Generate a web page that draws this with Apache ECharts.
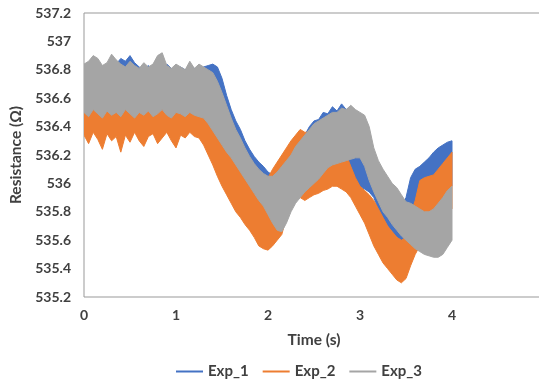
<!DOCTYPE html>
<html><head><meta charset="utf-8">
<script src="https://cdn.jsdelivr.net/npm/echarts@6/dist/echarts.min.js"></script>
<style>html,body{margin:0;padding:0;background:#fff}#c{width:539px;height:380px}</style>
</head><body><div id="c"></div>
<script>
// Time samples every 0.05 s from 0 to 4 s; each series is a noisy band read as low/high envelope
const sampleStep = 0.05;
const xTicks = [0, 1, 2, 3, 4, 5];
const yTicks = [535.2, 535.4, 535.6, 535.8, 536, 536.2, 536.4, 536.6, 536.8, 537, 537.2];
const seriesNames = ['Exp_1', 'Exp_2', 'Exp_3'];

const exp1High = [536.80,536.82,536.79,536.83,536.80,536.78,536.81,536.84,536.88,536.86,536.90,536.85,536.82,536.80,536.83,536.79,536.82,536.80,536.84,536.81,536.79,536.82,536.80,536.83,536.81,536.80,536.82,536.83,536.84,
536.82,536.74,536.62,536.52,536.44,536.38,536.30,536.24,536.19,536.15,536.12,536.08,
536.06,536.10,536.14,536.18,536.22,536.26,536.30,536.34,536.40,536.44,536.45,536.50,536.49,536.54,536.51,536.56,536.52,536.54,536.48,536.40,
536.30,536.20,536.10,536.02,535.96,535.90,535.86,535.84,535.84,535.90,536.04,536.10,536.12,536.15,536.18,536.22,536.25,536.27,536.29,536.30];
const exp1Low = [536.46,536.40,536.48,536.45,536.47,536.44,536.46,536.48,536.45,536.47,536.46,536.44,536.48,536.46,536.45,536.47,536.46,536.48,536.45,536.46,536.47,536.44,536.46,536.48,536.45,536.46,536.47,536.45,536.44,
536.42,536.38,536.32,536.26,536.20,536.14,536.08,536.02,535.96,535.90,535.85,535.80,535.75,
535.70,535.72,535.78,535.84,535.90,535.95,535.98,536.02,536.05,536.08,536.10,536.12,536.14,536.15,536.16,536.16,536.12,536.00,535.98,
535.96,535.94,535.90,535.82,535.76,535.70,535.66,535.62,535.60,535.60,535.66,535.74,535.78,535.82,535.86,535.90,535.92,535.94,535.96,535.98];

const exp2High = [536.56,536.55,536.57,536.54,536.56,536.58,536.55,536.56,536.54,536.57,536.55,536.56,536.58,536.54,536.56,536.55,536.57,536.56,536.54,536.55,536.57,536.56,536.55,536.54,536.56,536.53,
536.50,536.47,536.42,536.37,536.32,536.27,536.23,536.18,536.13,536.08,536.03,535.98,535.95,535.98,536.04,536.10,536.15,536.20,536.25,536.30,
536.34,536.38,536.36,536.36,536.36,536.35,536.34,536.33,536.32,536.30,536.26,536.20,536.12,536.04,535.98,
535.95,535.92,535.88,535.82,535.76,535.70,535.66,535.62,535.60,535.62,535.78,535.88,536.02,536.04,536.05,536.06,536.10,536.14,536.18,536.22];
const exp2Low = [536.34,536.28,536.36,536.31,536.24,536.35,536.30,536.33,536.22,536.34,536.29,536.36,536.30,536.26,536.33,536.35,536.28,536.32,536.36,536.30,536.25,536.34,536.32,536.36,536.33,
536.32,536.27,536.20,536.13,536.05,535.98,535.92,535.86,535.80,535.76,535.71,535.67,535.62,535.56,535.54,535.53,535.56,535.60,
535.64,535.76,535.86,535.90,535.90,535.88,535.90,535.92,535.93,535.95,535.96,535.98,535.98,535.96,535.94,535.90,535.84,535.78,
535.72,535.64,535.56,535.50,535.44,535.40,535.36,535.32,535.30,535.33,535.42,535.50,535.56,535.62,535.66,535.70,535.74,535.78,535.80,535.82];

const exp3High = [536.84,536.86,536.90,536.88,536.83,536.85,536.91,536.87,536.84,536.82,536.86,536.83,536.81,536.85,536.82,536.84,536.90,536.92,536.83,536.81,536.84,536.82,536.80,536.86,536.81,536.84,536.82,536.80,
536.78,536.72,536.64,536.55,536.46,536.38,536.32,536.25,536.19,536.14,536.10,536.07,536.05,536.05,
536.08,536.12,536.16,536.20,536.26,536.30,536.34,536.38,536.42,536.44,536.46,536.48,536.50,536.50,536.53,536.52,536.55,536.52,536.50,
536.48,536.40,536.25,536.16,536.10,536.05,536.00,535.97,535.92,535.87,535.86,535.84,535.82,535.80,535.80,535.82,535.86,535.90,535.95,535.98];
const exp3Low = [536.50,536.47,536.52,536.49,536.46,536.51,536.48,536.50,536.47,536.52,536.49,536.46,536.50,536.48,536.51,536.47,536.49,536.52,536.48,536.46,536.50,536.49,536.47,536.50,536.48,536.47,
536.46,536.42,536.37,536.32,536.27,536.22,536.18,536.13,536.08,536.03,535.98,535.93,535.88,535.84,535.78,535.72,535.67,535.66,535.72,535.80,535.86,535.90,535.94,535.97,536.00,
536.03,536.07,536.11,536.13,536.14,536.15,536.16,536.17,536.18,536.18,
536.12,536.02,535.94,535.87,535.80,535.76,535.71,535.67,535.63,535.60,535.57,535.54,535.52,535.50,535.49,535.48,535.48,535.50,535.55,535.60];

const colors = ['#4472C4', '#ED7D31', '#A5A5A5'];
const times = exp1High.map((_, i) => +(i * sampleStep).toFixed(2));

// Each band is one polygon: high envelope left-to-right, then low envelope back, placed via the axes' scales
function band(name, color, low, high) {
  return {
    name: name, type: 'custom', silent: true, clip: true,
    itemStyle: { color: color },
    encode: { x: 0, y: [1, 2] },
    data: times.map((t, i) => [t, low[i], high[i]]),
    renderItem: function (params, api) {
      if (params.dataIndexInside !== 0) return null;
      const n = params.dataInsideLength;
      const pts = [];
      for (let i = 0; i < n; i++) pts.push(api.coord([api.value(0, i), api.value(2, i)]));
      for (let i = n - 1; i >= 0; i--) pts.push(api.coord([api.value(0, i), api.value(1, i)]));
      return { type: 'polygon', shape: { points: pts },
        style: { fill: color, stroke: color, lineWidth: 1, lineJoin: 'miter' } };
    }
  };
}

const tickFont = { fontFamily: 'Lato', fontWeight: 'bold', fontSize: 14, color: '#404040' };
const nameFont = { fontFamily: 'Lato', fontWeight: 'bold', fontSize: 15.5, color: '#404040' };
const chart = echarts.init(document.getElementById('c'));
chart.setOption({
  animation: false,
  backgroundColor: '#fff',
  grid: { left: 84, top: 13, right: -5, bottom: 83, outerBoundsMode: 'none', containLabel: false,
    show: true, borderColor: '#999999', borderWidth: 1 },
  xAxis: {
    type: 'value', min: xTicks[0], max: xTicks[xTicks.length - 1], interval: 1,
    axisLine: { show: false }, axisTick: { show: false }, splitLine: { show: false },
    axisLabel: Object.assign({ margin: 11 }, tickFont),
    name: 'Time (s)', nameLocation: 'middle', nameGap: 35,
    nameTextStyle: nameFont
  },
  yAxis: {
    type: 'value', min: yTicks[0], max: yTicks[yTicks.length - 1], interval: 0.2,
    axisLine: { show: false }, axisTick: { show: false }, splitLine: { show: false },
    axisLabel: Object.assign({ margin: 13, formatter: v => String(+v.toFixed(1)) }, tickFont),
    name: 'Resistance (Ω)', nameLocation: 'middle', nameGap: 49,
    nameTextStyle: nameFont
  },
  legend: {
    data: seriesNames, left: 171, top: 359, icon: 'rect', itemWidth: 27, itemHeight: 2, itemGap: 14,
    textStyle: { fontFamily: 'Lato', fontWeight: 'bold', fontSize: 15, color: '#404040', padding: [0, 0, 3, 0] }
  },
  series: [
    band(seriesNames[0], colors[0], exp1Low, exp1High),
    band(seriesNames[1], colors[1], exp2Low, exp2High),
    band(seriesNames[2], colors[2], exp3Low, exp3High)
  ]
});
</script>
</body></html>
